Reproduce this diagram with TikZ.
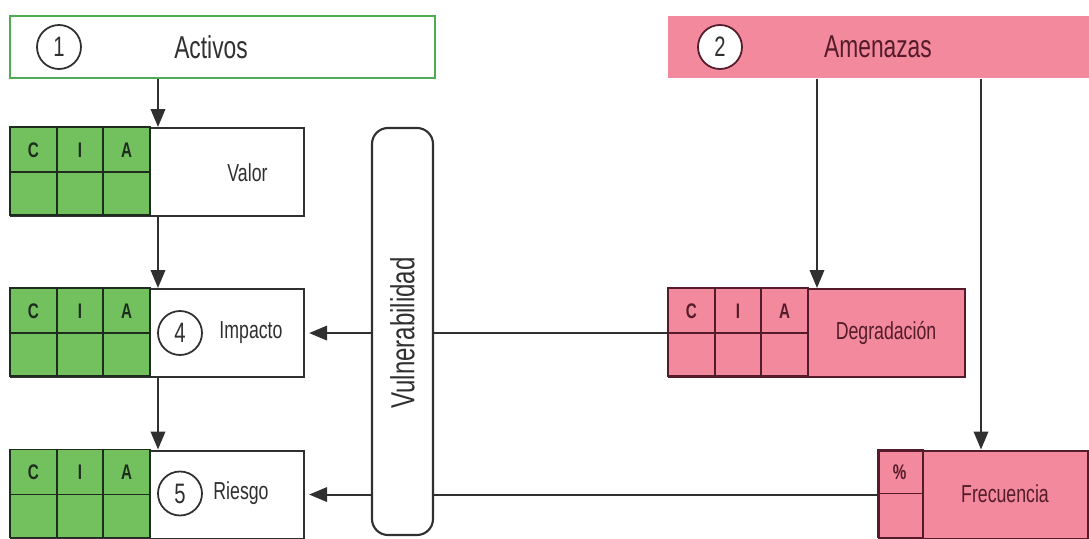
\documentclass[tikz,border=0pt]{standalone}
\usepackage{fontspec}
\setmainfont{Liberation Sans}[FakeStretch=0.72]
\usetikzlibrary{arrows.meta,positioning}
\definecolor{verdecia}{RGB}{114,192,94}
\definecolor{bordeverde}{RGB}{80,172,84}
\definecolor{lineaverde}{RGB}{30,44,30}
\definecolor{rosa}{RGB}{243,137,157}
\definecolor{granate}{RGB}{84,28,42}
\definecolor{linea}{RGB}{48,48,48}
\definecolor{texto}{RGB}{48,48,48}
\tikzset{
  flecha/.style={draw=linea,line width=1.2pt,-{Triangle[length=0.36cm,width=0.29cm]}},
  cabecera/.style={line width=1pt,minimum height=1.24cm,inner sep=0pt},
  bloque/.style={draw=linea,line width=1.2pt,minimum height=1.76cm,inner sep=0pt,anchor=north west},
  celda/.style={line width=1.1pt},
  num/.style={circle,draw=linea,line width=1pt,fill=white,minimum size=0.88cm,inner sep=0pt,text=texto,font=\fontsize{16}{16}\selectfont},
  titulo/.style={text=texto,font=\fontsize{18}{18}\selectfont},
  etiq/.style={text=texto,font=\fontsize{14}{14}\selectfont},
  letra/.style={font=\bfseries\fontsize{12}{12}\selectfont},
}
\begin{document}
\begin{tikzpicture}
  \useasboundingbox (0,0) rectangle (21.78,-10.76);
  % ejes de las flechas verticales
  \coordinate (ejeact) at (3.16,0);
  \coordinate (ejedeg) at (16.34,0);
  \coordinate (ejefrec) at (19.62,0);

  % cabeceras
  \node[cabecera,draw=bordeverde,fill=white,minimum width=8.5cm] (activos) at (4.45,-0.94) {};
  \node[num] (n1) at (1.18,-0.94) {1};
  \node[titulo] (activostxt) at (4.22,-0.94) {Activos};
  \node[cabecera,fill=rosa,minimum width=8.42cm] (amenazas) at (17.57,-0.94) {};
  \node[num,draw=granate] (n2) at (14.4,-0.94) {2};
  \node[titulo,text=granate] (amenazastxt) at (17.56,-0.94) {Amenazas};

  % bloques
  \node[bloque,fill=white,minimum width=5.86cm] (valor) at (0.2,-2.54) {};
  \node[bloque,fill=white,minimum width=5.86cm] (impacto) at (0.2,-5.76) {};
  \node[bloque,fill=white,minimum width=5.86cm] (riesgo) at (0.2,-8.99) {};
  \node[bloque,draw=granate,fill=rosa,minimum width=5.92cm] (degradacion) at (13.36,-5.76) {};
  \node[bloque,draw=granate,fill=rosa,minimum width=4.18cm] (frecuencia) at (17.56,-8.99) {};

  % celdas C I A
  \foreach \xo/\yo/\col/\lin/\txt [count=\b] in {0.2/-2.54/verdecia/lineaverde/lineaverde,
      0.2/-5.76/verdecia/lineaverde/lineaverde, 0.2/-8.99/verdecia/lineaverde/lineaverde,
      13.36/-5.76/rosa/granate/granate}{
    \foreach \l [count=\i from 0] in {C,I,A}{
      \draw[celda,fill=\col,draw=\lin] (\xo+\i*0.9333,\yo) rectangle ++(0.9333,-0.9);
      \draw[celda,fill=\col,draw=\lin] (\xo+\i*0.9333,\yo-0.9) rectangle ++(0.9333,-0.86);
      \node[letra,text=\txt] (cia\b\i) at (\xo+\i*0.9333+0.4667,\yo-0.46) {\l};
    }
  }
  \draw[celda,draw=granate] (17.56,-8.99) rectangle (18.46,-9.87);
  \draw[celda,draw=granate] (17.56,-9.87) rectangle (18.46,-10.75);
  \node[letra,text=granate] (pct) at (17.99,-9.45) {\%};

  % textos de los bloques
  \node[etiq] (valortxt) at (4.95,-3.46) {Valor};
  \node[num] (n4) at (3.6,-6.66) {4};
  \node[etiq] (impactotxt) at (5.02,-6.66) {Impacto};
  \node[num] (n5) at (3.6,-9.87) {5};
  \node[etiq] (riesgotxt) at (4.82,-9.87) {Riesgo};
  \node[etiq,text=granate] (degtxt) at (17.72,-6.66) {Degradación};
  \node[etiq,text=granate] (frectxt) at (20.1,-9.87) {Frecuencia};

  % flechas
  \draw[flecha] (activos.south -| ejeact) -- (valor.north -| ejeact);
  \draw[flecha] (valor.south -| ejeact) -- (impacto.north -| ejeact);
  \draw[flecha] (impacto.south -| ejeact) -- (riesgo.north -| ejeact);
  \draw[flecha] (amenazas.south -| ejedeg) -- (degradacion.north -| ejedeg);
  \draw[flecha] (amenazas.south -| ejefrec) -- (frecuencia.north -| ejefrec);
  \draw[flecha,shorten >=0.08cm] (degradacion.west) -- (impacto.east);
  \draw[flecha,shorten >=0.08cm] (frecuencia.west) -- (riesgo.east);

  % vulnerabilidad, tapa las flechas horizontales
  \node[draw=linea,line width=1.2pt,fill=white,rounded corners=0.32cm,minimum width=1.22cm,minimum height=8.14cm,inner sep=0pt] (vuln) at (8.05,-6.63) {};
  \node[rotate=90,text=texto,font=\fontsize{19}{19}\selectfont] (vulntxt) at (8.05,-6.66) {Vulnerabilidad};
\end{tikzpicture}
\end{document}
